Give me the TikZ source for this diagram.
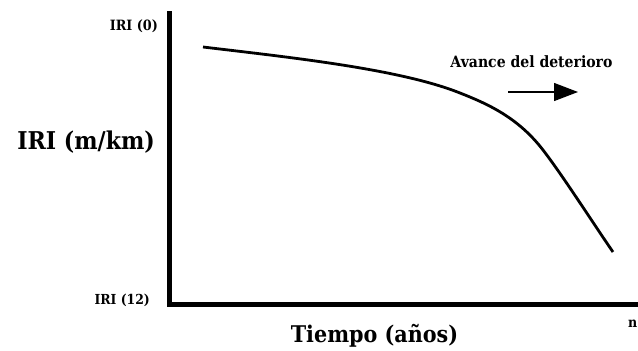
\documentclass[tikz,border=0pt]{standalone}
\usepackage{fontspec}
\setmainfont{DejaVu Serif Condensed}
\usetikzlibrary{arrows.meta}
\begin{document}
\begin{tikzpicture}[x=1pt,y=-1pt,
  lbl/.style={inner sep=0pt, font=\bfseries},
  axis/.style={line width=5pt},
  curve/.style={line width=2.8pt},
  adv/.style={line width=1.4pt, -{Triangle[length=24pt,width=18pt]}}]
\useasboundingbox (0,0) rectangle (638,351);
% axes
\coordinate (ytop) at (169,11);
\coordinate (orig) at (169,304.5);
\coordinate (xend) at (640,304.5);
\draw[axis] (ytop) -- (orig) -- (xend);
% labels
\node[lbl, anchor=east, font=\bfseries\fontsize{14.2}{16}\selectfont] (i0) at (158,26) {IRI (0)};
\node[lbl, anchor=east, font=\bfseries\fontsize{13.8}{16}\selectfont] (i12) at (150,300) {IRI (12)};
\node[lbl, anchor=east, font=\bfseries\fontsize{24.5}{28}\selectfont] (ylab) at (155,142) {IRI (m/km)};
\node[lbl, font=\bfseries\fontsize{23}{27}\selectfont] (xlab) at (374.5,336) {Tiempo (años)};
\node[lbl, anchor=west, font=\bfseries\fontsize{14}{16}\selectfont] (n) at (628,324) {n};
\node[lbl, font=\bfseries\fontsize{15.6}{18}\selectfont] (adv) at (531.5,62) {Avance del deterioro};
% curve
\coordinate (c0) at (203,47);
\coordinate (c1) at (460,93);
\coordinate (c2) at (543,150);
\coordinate (c3) at (613,252);
\draw[curve] (c0) .. controls (290,57.4) and (400,69) .. (c1)
  .. controls (488,104) and (518,117.5) .. (c2)
  .. controls (563,176) and (593,223) .. (c3);
% arrow
\coordinate (a1) at (508,92);
\coordinate (a2) at (578,92);
\draw[adv] (a1) -- (a2);
\end{tikzpicture}
\end{document}
